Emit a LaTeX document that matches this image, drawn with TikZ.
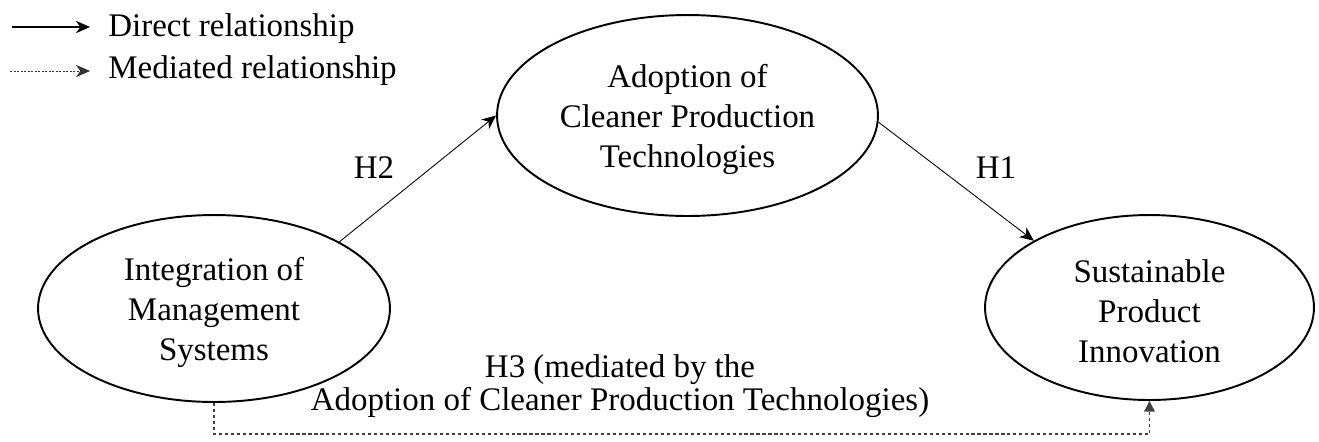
\documentclass[tikz,border=0pt]{standalone}
\usepackage{fontspec}
\setmainfont{Liberation Serif}
\usetikzlibrary{shapes.geometric,arrows.meta}
\tikzset{
  construct/.style={draw, ellipse, line width=1.1pt, inner sep=0pt},
  ctext/.style={align=center, font=\fontsize{18.76}{22.76}\selectfont, yshift=-0.07cm},
  hlabel/.style={anchor=base, inner sep=0pt, font=\fontsize{18.76}{22.76}\selectfont},
  legtext/.style={anchor=base west, inner xsep=0.36cm, inner ysep=0pt, font=\fontsize{18.76}{22.76}\selectfont},
  direct/.style={-{Stealth[length=8pt,width=7pt,inset=2.5pt]}, line width=0.5pt},
  mediated/.style={-{Triangle[length=6pt,width=6pt]}, line width=0.6pt, black!75, dash pattern=on 1.8pt off 1.6pt},
  legmediated/.style={-{Stealth[length=8pt,width=7pt,inset=2.5pt]}, line width=0.5pt, black!80, dash pattern=on 1.2pt off 0.8pt}
}
\begin{document}
\begin{tikzpicture}[x=0.02cm, y=-0.02cm]
\useasboundingbox (0,0) rectangle (1319,441);
% legend
\node[legtext] (dtxt) at (90,36) {Direct relationship};
\node[legtext] (mtxt) at (90,78) {Mediated relationship};
\coordinate (d0) at (12,27);
\coordinate (m0) at (10,71);
\draw[direct, line width=0.75pt] (d0) -- (d0 -| dtxt.west);
\draw[legmediated] (m0) -- (m0 -| mtxt.west);
% constructs
\node[construct, minimum width=7.04cm, minimum height=3.74cm,
  label={[ctext]center:Integration of\\Management\\Systems}] (ims) at (214,308.5) {};
\node[construct, minimum width=7.62cm, minimum height=4.02cm,
  label={[ctext]center:Adoption of\\Cleaner Production\\Technologies}] (acpt) at (687.5,115.5) {};
\node[construct, minimum width=6.58cm, minimum height=3.70cm,
  label={[ctext]center:Sustainable\\Product\\Innovation}] (spi) at (1149.5,307.5) {};
% hypotheses
\draw[direct] (ims.28) -- (acpt.west);
\draw[direct] (acpt.-2) -- (spi.150);
\node[hlabel] (h2) at (374,178) {H2};
\node[hlabel] (h1) at (996,178) {H1};
\coordinate (low) at (0,434);
\draw[mediated] (ims.south) |- (low -| spi.south) -- (spi.south);
\node[align=center, inner sep=0pt, font=\fontsize{18.76}{18.76}\selectfont] (h3) at (620,386)
  {H3 (mediated by the\\Adoption of Cleaner Production Technologies)};
\end{tikzpicture}
\end{document}
